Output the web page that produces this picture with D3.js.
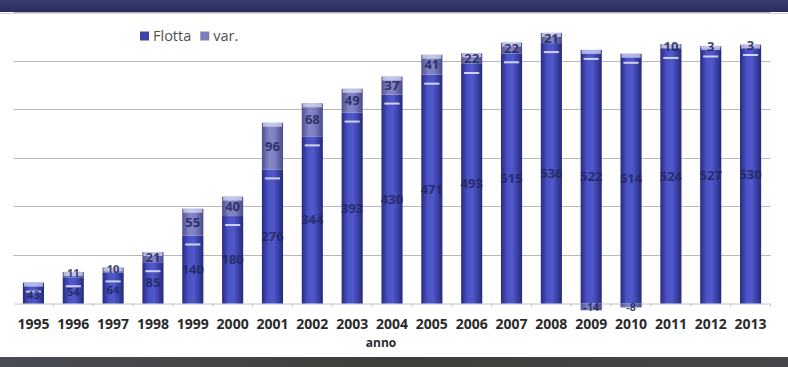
<!DOCTYPE html>
<html><head><meta charset="utf-8">
<script src="https://cdn.jsdelivr.net/npm/d3@7"></script>
<style>html,body{margin:0;padding:0;background:#fff;overflow:hidden}</style>
</head><body>
<svg id="c" width="788" height="367"></svg>
<script>
const years = ["1995","1996","1997","1998","1999","2000","2001","2002","2003","2004","2005","2006","2007","2008","2009","2010","2011","2012","2013"];
const flotta = [43,54,64,85,140,180,276,344,393,430,471,493,515,536,522,514,524,527,530];
const variazione = [0,11,10,21,55,40,96,68,49,37,41,22,22,21,-14,-8,10,3,3];
const yTicks = [0,100,200,300,400,500,600];
const seriesNames = ["Flotta","var."];

const svg = d3.select("#c");
const W = 788, H = 367;
const x = d3.scaleBand().domain(years).range([13.5, 770.5]).paddingInner(0.47).paddingOuter(0.235);
const y = d3.scaleLinear().domain([0, 600]).range([303.5, 12]);

const defs = svg.append("defs");
function grad(id, stops){
  const g = defs.append("linearGradient").attr("id", id).attr("x1","0").attr("x2","1").attr("y1","0").attr("y2","0");
  stops.forEach(s => g.append("stop").attr("offset", s[0]).attr("stop-color", s[1]));
}
grad("gF", [["0%","#262b7e"],["30%","#4a52c6"],["55%","#5058cc"],["100%","#252a7c"]]);
grad("gV", [["0%","#4f5090"],["35%","#8486c8"],["60%","#7e80c2"],["100%","#4a4b88"]]);
const tg = defs.append("linearGradient").attr("id","gT").attr("x1","0").attr("x2","0").attr("y1","0").attr("y2","1");
tg.append("stop").attr("offset","0%").attr("stop-color","#3a4070");
tg.append("stop").attr("offset","100%").attr("stop-color","#262b5c");
const bg = defs.append("linearGradient").attr("id","gB").attr("x1","0").attr("x2","1").attr("y1","0").attr("y2","0");
bg.append("stop").attr("offset","0%").attr("stop-color","#4a4c55");
bg.append("stop").attr("offset","50%").attr("stop-color","#3e3f38");
bg.append("stop").attr("offset","100%").attr("stop-color","#46464a");

// gridlines
svg.append("g").selectAll("line").data(yTicks.filter(d => d > 0)).join("line")
  .attr("x1", 13.5).attr("x2", 770.5)
  .attr("y1", d => Math.round(y(d)) + 0.5).attr("y2", d => Math.round(y(d)) + 0.5)
  .attr("stroke", "#b8b8b8").attr("stroke-width", 1);

// x axis
const xAxis = d3.axisBottom(x).tickSize(3).tickSizeOuter(0).tickPadding(13);
const ax = svg.append("g").attr("transform", `translate(0,${y(0)})`).call(xAxis);
ax.select(".domain").attr("stroke", "#c4c4c4");
ax.selectAll(".tick line").attr("stroke", "#c4c4c4").attr("transform", `translate(${x.step()/2},0)`);
ax.selectAll(".tick text").attr("font-family", "'Open Sans', sans-serif").attr("font-weight", "700")
  .attr("font-size", "14px").attr("fill", "#2a2a2a");

// bars
const data = years.map((yr, i) => ({yr, f: flotta[i], v: variazione[i]}));
const gBars = svg.append("g");
data.forEach(d => {
  const bx = x(d.yr), bw = x.bandwidth();
  const fy0 = y(d.f), fy1 = y(0);
  gBars.append("rect").attr("x", bx).attr("y", fy0).attr("width", bw).attr("height", fy1 - fy0).attr("fill", "url(#gF)");
  let vy0, vy1;
  if (d.v > 0) { vy0 = y(d.f + d.v); vy1 = y(d.f); }
  else if (d.v < 0) { vy0 = y(0); vy1 = y(d.v); }
  if (d.v !== 0) {
    gBars.append("rect").attr("x", bx).attr("y", vy0).attr("width", bw).attr("height", vy1 - vy0).attr("fill", "url(#gV)");
  }
  const topY = d.v > 0 ? vy0 : fy0;
  gBars.append("rect").attr("x", bx + 1).attr("y", topY).attr("width", bw - 2).attr("height", 4)
    .attr("fill", "#dfe2f6").attr("opacity", 0.7);
  gBars.append("rect").attr("x", bx + 3).attr("y", fy0 + 8).attr("width", bw - 6).attr("height", 2)
    .attr("fill", "#ffffff").attr("opacity", 0.75);
  const lab = (txt, cy, fs) => gBars.append("text").attr("x", bx + bw/2).attr("y", cy).attr("dy", "0.35em")
    .attr("text-anchor", "middle").attr("font-family", "'Open Sans', sans-serif").attr("font-weight", "700")
    .attr("font-size", fs).attr("fill", "#23265a").attr("opacity", 0.85).text(txt);
  const small = d.f + Math.max(d.v, 0) < 80;
  lab(d.f, (y(d.f) + y(0)) / 2 + (small ? 2 : 0), small ? "11px" : "13px");
  if (d.v > 0) lab(d.v, (y(d.f + d.v) + y(d.f)) / 2 - (small ? 1 : 0), small ? "11px" : "13px");
  if (d.v < 0) lab(d.v, y(0) + 4, "10.5px");
});

// axis title
svg.append("text").attr("x", 381).attr("y", 347).attr("text-anchor", "middle")
  .attr("font-family", "'Open Sans', sans-serif").attr("font-weight", "700").attr("font-size", "12px")
  .attr("fill", "#2a2a2a").text("anno");

// legend
const leg = svg.append("g").attr("transform", "translate(140,36)");
const legFills = ["#3d44a8", "#7a7cbc"];
let lx = 0;
seriesNames.forEach((n, i) => {
  leg.append("rect").attr("x", lx).attr("y", -4.5).attr("width", 9).attr("height", 9).attr("fill", legFills[i]);
  const t = leg.append("text").attr("x", lx + 13).attr("y", 0).attr("dy", "0.35em")
    .attr("font-family", "'Open Sans', sans-serif").attr("font-size", "14.5px").attr("fill", "#505050").text(n);
  lx += 13 + t.node().getComputedTextLength() + 9;
});

// title bar and bottom band
svg.append("rect").attr("x", 0).attr("y", 0).attr("width", W).attr("height", 12).attr("fill", "url(#gT)");
svg.append("line").attr("x1", 0).attr("x2", W).attr("y1", 13.5).attr("y2", 13.5).attr("stroke", "#d0d0da");
svg.append("rect").attr("x", 0).attr("y", 357).attr("width", W).attr("height", 10).attr("fill", "url(#gB)");
</script>
</body></html>
